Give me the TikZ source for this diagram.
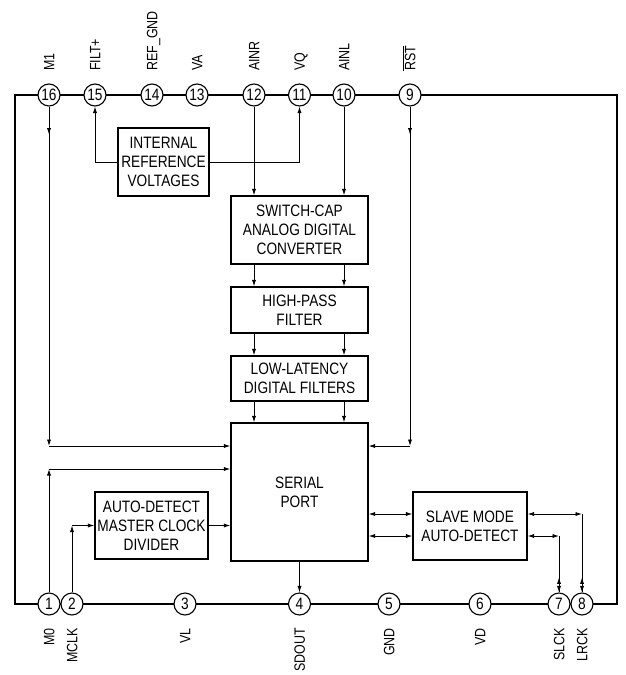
\documentclass[tikz,border=0pt]{standalone}
\usepackage{fontspec}
\setmainfont{Liberation Sans}[FakeStretch=0.83]
\usetikzlibrary{arrows.meta, positioning, calc}

\begin{document}
\begin{tikzpicture}[
    x=1pt, y=-1pt,
    >={Latex[length=6.5pt, width=4.2pt]},
    frame/.style={line width=2pt},
    pin/.style={circle, draw, line width=1.1pt, fill=white, minimum size=22pt, inner sep=0pt, font=\fontsize{16.5}{16.5}\selectfont},
    block/.style={draw, line width=1.3pt, align=center, inner sep=0pt, font=\fontsize{16.5}{19}\selectfont},
    toplabel/.style={rotate=90, anchor=west, inner sep=0pt, text height=10.8pt, text depth=0pt, font=\fontsize{15}{15}\selectfont},
    botlabel/.style={toplabel, anchor=east},
    sig/.style={line width=0.9pt}
]

\useasboundingbox (0,0) rectangle (625,675);

% === outline ===
\draw[frame] (15,95) rectangle (617,604);

% === top pins ===
\node[pin] (p16) at (49,95)    {16};
\node[pin] (p15) at (95,95)    {15};
\node[pin] (p14) at (152,95)   {14};
\node[pin] (p13) at (197,95)   {13};
\node[pin] (p12) at (254,95)   {12};
\node[pin] (p11) at (299.5,95) {11};
\node[pin] (p10) at (344,95)   {10};
\node[pin] (p9)  at (410,95)   {9};

\node[toplabel] (l16) at (49,71)    {M1};
\node[toplabel] (l15) at (95,71)    {FILT+};
\node[toplabel] (l14) at (152,71)   {REF\_GND};
\node[toplabel] (l13) at (197,71)   {VA};
\node[toplabel] (l12) at (254,71)   {AINR};
\node[toplabel] (l11) at (299.5,71) {VQ};
\node[toplabel] (l10) at (344,71)   {AINL};
\node[toplabel] (l9)  at (410,71)   {$\overline{\mbox{RST}}$};

% === bottom pins ===
\node[pin] (p1) at (49,604)    {1};
\node[pin] (p2) at (72,604)    {2};
\node[pin] (p3) at (185,604)   {3};
\node[pin] (p4) at (299.5,604) {4};
\node[pin] (p5) at (389,604)   {5};
\node[pin] (p6) at (480,604)   {6};
\node[pin] (p7) at (559,604)   {7};
\node[pin] (p8) at (582,604)   {8};

\node[botlabel] (l1) at (49,628)    {M0};
\node[botlabel] (l2) at (72,628)    {MCLK};
\node[botlabel] (l3) at (185,628)   {VL};
\node[botlabel] (l4) at (299.5,628) {SDOUT};
\node[botlabel] (l5) at (389,628)   {GND};
\node[botlabel] (l6) at (480,628)   {VD};
\node[botlabel] (l7) at (559,628)   {SLCK};
\node[botlabel] (l8) at (582,628)   {LRCK};

% === blocks ===
\node[block, minimum width=91pt,  minimum height=68pt]  (ref)     at (163.5,162)   {INTERNAL\\REFERENCE\\VOLTAGES};
\node[block, minimum width=137pt, minimum height=68pt]  (adc)     at (299.5,230)   {SWITCH-CAP\\ANALOG DIGITAL\\CONVERTER};
\node[block, minimum width=137pt, minimum height=46pt]  (hpf)     at (299.5,310)   {HIGH-PASS\\FILTER};
\node[block, minimum width=137pt, minimum height=45pt]  (lldf)    at (299.5,378.5) {LOW-LATENCY\\DIGITAL FILTERS};
\node[block, minimum width=137pt, minimum height=138pt] (sport)   at (299.5,492)   {SERIAL\\PORT};
\node[block, minimum width=113pt, minimum height=67pt]  (divider) at (151.5,525.5) {AUTO-DETECT\\MASTER CLOCK\\DIVIDER};
\node[block, minimum width=114pt, minimum height=68pt]  (slave)   at (470,526)     {SLAVE MODE\\AUTO-DETECT};

% === reference voltages ===
\draw[sig,->] (ref.west) -| (p15);
\draw[sig,->] (ref.east) -| (p11);

% === analog path ===
\draw[sig,->] (p12) -- (p12 |- adc.north);
\draw[sig,->] (p10) -- (p10 |- adc.north);
\draw[sig,->] (adc.south -| p12) -- (hpf.north -| p12);
\draw[sig,->] (adc.south -| p10) -- (hpf.north -| p10);
\draw[sig,->] (hpf.south -| p12) -- (lldf.north -| p12);
\draw[sig,->] (hpf.south -| p10) -- (lldf.north -| p10);
\draw[sig,->] (lldf.south -| p12) -- (sport.north -| p12);
\draw[sig,->] (lldf.south -| p10) -- (sport.north -| p10);

% === mode and reset ===
\coordinate (m1)  at (49,446);
\coordinate (rst) at (410,446);
\coordinate (m0)  at (49,469);
\draw[sig,->] (p16) -- (m1);
\draw[sig,->] (p16.south) -- ++(0,28);
\draw[sig,->] (m1) -- (m1 -| sport.west);
\draw[sig,->] (p9) -- (rst);
\draw[sig,->] (p9.south) -- ++(0,28);
\draw[sig,->] (rst) -- (rst -| sport.east);
\draw[sig,->] (p1) -- (m0);
\draw[sig,->] (m0) -- (m0 -| sport.west);

% === master clock ===
\coordinate (mclk) at (72,525.5);
\draw[sig,->] (p2) -- (mclk);
\draw[sig,->] (mclk) -- (divider.west);
\draw[sig,->] (divider.east) -- (divider.east -| sport.west);
\draw[sig,->] (sport.south) -- (p4);

% === slave mode clocks ===
\coordinate (lrck) at (582,514);
\coordinate (slck) at (559,536);
\draw[sig,<->] (lrck -| sport.east) -- (lrck -| slave.west);
\draw[sig,<->] (slck -| sport.east) -- (slck -| slave.west);
\draw[sig,<->] (lrck -| slave.east) -- (lrck);
\draw[sig,<->] (slck -| slave.east) -- (slck);
\draw[sig] (lrck) -- (p8);
\draw[sig] (slck) -- (p7);
\draw[sig,<->] ($(p8.north)+(0,-15)$) -- (p8.north);
\draw[sig,<->] ($(p7.north)+(0,-15)$) -- (p7.north);

\end{tikzpicture}
\end{document}
